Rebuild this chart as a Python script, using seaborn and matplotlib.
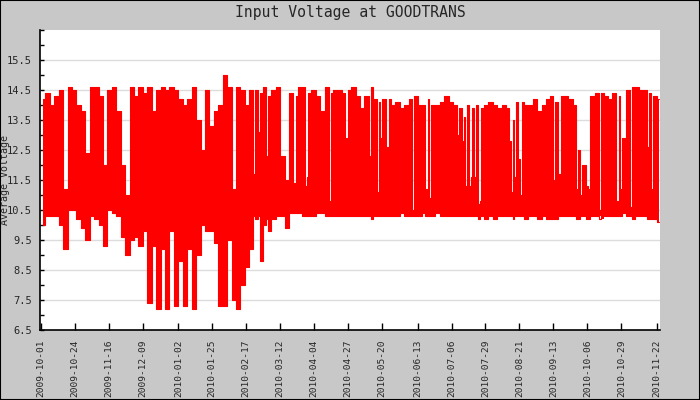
import matplotlib
matplotlib.use("Agg")
import matplotlib.pyplot as plt
from matplotlib.patches import Rectangle
from matplotlib.ticker import MultipleLocator, FixedLocator, NullFormatter
import numpy as np
import pandas as pd
import seaborn as sns

start = pd.Timestamp("2009-10-01")

# daytime peaks and overnight troughs, every 3 days
peak_v = [14.2, 14.4, 14.0, 14.3, 14.5, 11.2, 14.6, 14.5, 14.0, 13.8, 12.4, 14.6,
          14.6, 14.3, 12.0, 14.5, 14.6, 13.8, 12.0, 11.0, 14.6, 14.3, 14.6, 14.4,
          14.6, 13.8, 14.5, 14.6, 14.5, 14.6, 14.5, 14.2, 14.0, 14.2, 14.6, 13.5,
          12.5, 14.5, 13.3, 13.8, 14.0, 15.0, 14.6, 11.2, 14.6, 14.5, 14.0,
          14.5, 14.5, 14.4, 14.6, 14.3, 14.5, 14.6, 12.3, 11.5, 14.4, 14.3, 14.6,
          14.6, 14.4, 14.5, 14.3, 13.8, 14.6, 14.4, 14.5, 14.5, 14.4, 14.5, 14.6,
          14.3, 13.9, 14.3, 14.6, 14.2, 14.1, 14.2, 14.2, 14.0, 14.1, 13.9, 14.0,
          14.2, 14.3, 14.0, 14.0, 14.2, 14.0, 14.0, 14.1, 14.3, 14.1, 14.0,
          13.9, 13.6, 14.0, 13.9, 14.0, 13.9, 14.0, 14.1, 14.0, 13.9, 14.0, 13.9,
          13.5, 14.1, 14.1, 14.0, 14.0, 14.2, 13.8, 14.0, 14.2, 14.3, 14.1, 14.3,
          14.3, 14.2, 14.0, 12.5, 12.0, 11.2, 14.3, 14.4, 14.4, 14.3, 14.2, 14.4,
          14.3, 12.9, 14.5, 14.6, 14.6, 14.5, 14.5, 14.4, 14.3, 14.2]

trough_v = [10.0, 10.3, 10.3, 10.3, 10.0, 9.2, 10.5, 10.5, 10.2, 9.9, 9.5, 10.3,
            10.2, 10.0, 9.3, 10.5, 10.4, 10.3, 9.6, 9.0, 9.5, 9.6, 9.3, 9.8,
            7.4, 9.3, 7.2, 9.2, 7.2, 9.8, 7.3, 8.8, 7.3, 9.2, 7.2, 9.0,
            10.0, 9.8, 9.8, 9.4, 7.3, 7.3, 9.5, 7.5, 7.2, 8.0, 8.6,
            9.2, 10.2, 8.8, 10.0, 9.8, 10.2, 10.3, 10.3, 9.9, 10.4, 10.4, 10.4,
            10.3, 10.3, 10.3, 10.4, 10.4, 10.3, 10.3, 10.3, 10.3, 10.3, 10.3, 10.3,
            10.3, 10.3, 10.3, 10.2, 10.3, 10.3, 10.3, 10.3, 10.3, 10.3, 10.4, 10.3,
            10.3, 10.3, 10.3, 10.4, 10.3, 10.3, 10.4, 10.3, 10.3, 10.3, 10.3,
            10.3, 10.3, 10.3, 10.3, 10.3, 10.3, 10.2, 10.3, 10.2, 10.3, 10.3, 10.3,
            10.2, 10.3, 10.3, 10.2, 10.3, 10.3, 10.2, 10.3, 10.2, 10.2, 10.2, 10.3,
            10.3, 10.3, 10.3, 10.2, 10.3, 10.2, 10.3, 10.3, 10.2, 10.3, 10.3, 10.3,
            10.3, 10.4, 10.3, 10.2, 10.3, 10.3, 10.3, 10.2, 10.2, 10.1]

# single overcast days that show as narrow white notches (days after start)
dull_day = [144.4, 147.8, 153.5, 172.2, 179.0, 180.6, 196.4, 206.1, 207.0,
            223.3, 228.0, 229.6, 235.3, 251.7, 261.2, 263.0,
            282.4, 286.3, 288.0, 289.9, 291.9, 294.1, 296.2, 298.0,
            317.0, 319.2, 321.5, 323.3, 325.3, 347.0,
            351.3, 362.6, 364.9, 370.0, 379.5, 390.8, 392.4, 400.3, 411.1, 414.0]
dull_peak = [11.7, 13.1, 12.3, 11.4, 11.3, 11.6, 10.8, 11.9, 12.9,
             12.3, 11.1, 12.9, 12.6, 10.5, 11.2, 10.9,
             13.0, 12.8, 11.3, 11.3, 11.6, 11.6, 10.7, 10.8,
             12.8, 11.1, 11.6, 12.2, 11.0, 11.5,
             11.7, 11.2, 11.0, 11.3, 10.5, 10.8, 11.2, 10.6, 12.6, 11.2]
dull_trough = [10.3, 10.3, 10.2, 10.4, 10.3, 10.3, 10.3, 10.3, 10.3,
               10.3, 10.3, 10.3, 10.3, 10.3, 10.3, 10.3,
               10.3, 10.3, 10.3, 10.3, 10.3, 10.3, 10.2, 10.3,
               10.3, 10.3, 10.3, 10.3, 10.3, 10.2,
               10.3, 10.2, 10.3, 10.2, 10.3, 10.3, 10.3, 10.3, 10.2, 10.2]

tick_labels = ["2009-10-01", "2009-10-24", "2009-11-16", "2009-12-09", "2010-01-02",
               "2010-01-25", "2010-02-17", "2010-03-12", "2010-04-04", "2010-04-27",
               "2010-05-20", "2010-06-13", "2010-07-06", "2010-07-29", "2010-08-21",
               "2010-09-13", "2010-10-06", "2010-10-29", "2010-11-22"]

grid_days = np.arange(len(peak_v)) * 3.0 + 1.5
df = pd.concat([
    pd.DataFrame({"day": grid_days, "peak": peak_v, "trough": trough_v}),
    pd.DataFrame({"day": dull_day, "peak": dull_peak, "trough": dull_trough}),
]).sort_values("day").reset_index(drop=True)
df["time"] = start + pd.to_timedelta(df["day"], unit="D")
long_df = df.melt(id_vars="time", value_vars=["peak", "trough"],
                  var_name="kind", value_name="volt")

sns.set_style("white")
plt.rcParams["font.family"] = ["DejaVu Sans Mono"]

fig = plt.figure(figsize=(7, 4), dpi=100, facecolor="#c8c8c8")
ax = fig.add_axes([40 / 700, 70 / 400, 620 / 700, 300 / 400])
ax.set_facecolor("white")

# solid band between the overnight low and the daytime high
ax.fill_between(df["time"], df["trough"], df["peak"], step="mid",
                color="#ff0000", linewidth=0)
sns.lineplot(data=long_df, x="time", y="volt", units="kind", ax=ax,
             color="#ff0000", linewidth=0.8, estimator=None, drawstyle="steps-mid")

ax.set_ylim(6.5, 16.5)
ax.set_xlim(start - pd.Timedelta(days=0.7), start + pd.Timedelta(days=419.2))

major_y = np.arange(6.5, 16.0, 1.0)
ax.yaxis.set_major_locator(FixedLocator(major_y))
ax.yaxis.set_minor_locator(MultipleLocator(0.5))
ax.yaxis.set_minor_formatter(NullFormatter())
ax.set_yticklabels([f"{v:.1f}" for v in major_y])
ax.grid(axis="y", which="major", color="#dcdcdc", linewidth=1)
ax.grid(axis="x", visible=False)
ax.set_axisbelow(True)

ax.set_xticks(pd.to_datetime(tick_labels))
ax.set_xticklabels(tick_labels, rotation=90, fontsize=6.8)

ax.tick_params(axis="y", which="both", direction="in", length=3, width=1,
               labelsize=7.5, pad=6, color="black", left=True)
ax.tick_params(axis="x", direction="in", length=5, width=1, pad=7,
               color="black", bottom=True)

for s in ["top", "right"]:
    ax.spines[s].set_visible(False)
for s in ["left", "bottom"]:
    ax.spines[s].set_color("black")
    ax.spines[s].set_linewidth(1.2)

ax.set_xlabel("")
ax.set_ylabel("Average Voltage", fontsize=7.2)
ax.yaxis.set_label_coords(-0.048, 0.5)

fig.text(0.5, 1 - 13 / 400, "Input Voltage at GOODTRANS", ha="center",
         va="center", fontsize=10.6)

fig.patches.append(Rectangle((0, 0), 1, 1, transform=fig.transFigure,
                             fill=False, edgecolor="black", linewidth=1.5))

fig.savefig("out.png", dpi=100, facecolor=fig.get_facecolor())
